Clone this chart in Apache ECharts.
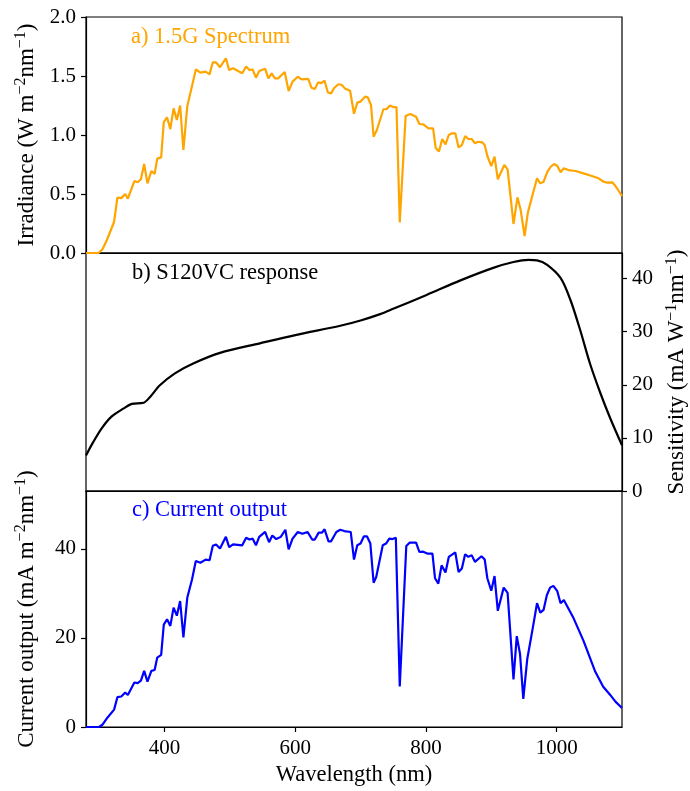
<!DOCTYPE html>
<html>
<head>
<meta charset="utf-8">
<script src="https://cdn.jsdelivr.net/npm/echarts@6/dist/echarts.min.js"></script>
<style>
  html, body { margin: 0; padding: 0; background: #fff; }
  #main { width: 690px; height: 791px; }
</style>
</head>
<body>
<div id="main"></div>
<script>
// a) spectre AM1.5G (lu sur la figure)
const irrWl = [280, 299, 305, 312, 323, 328, 334, 340, 344, 354, 359, 364, 369, 374, 380, 385, 389, 395, 399, 404,
  409, 414, 419, 424, 429, 435, 442, 448, 455, 463, 469, 474, 479, 485, 494, 499, 505, 519, 525, 530,
  535, 540, 545, 554, 559, 564, 569, 574, 584, 590, 596, 604, 610, 620, 625, 630, 635, 640, 645, 650,
  655, 660, 666, 671, 676, 684, 690, 695, 700, 707, 711, 716, 720, 725, 735, 740, 745, 750, 755, 760,
  769, 776, 785, 790, 796, 804, 811, 815, 820, 825, 830, 835, 840, 845, 850, 855, 860, 865, 870, 875,
  880, 886, 890, 894, 900, 905, 910, 920, 925, 934, 940, 945, 951, 956, 963, 970, 975, 980, 986, 991,
  996, 1001, 1006, 1011, 1018, 1029, 1041, 1054, 1064, 1072, 1077, 1085, 1090, 1100];
const irrVal = [0, 0, 0.03, 0.11, 0.265, 0.47, 0.465, 0.50, 0.46, 0.61, 0.60, 0.625, 0.755, 0.59, 0.695, 0.67, 0.80, 0.81, 1.11, 1.15,
  1.05, 1.226, 1.127, 1.25, 0.873, 1.246, 1.41, 1.556, 1.528, 1.537, 1.514, 1.616, 1.616, 1.574, 1.65, 1.55, 1.565, 1.523, 1.58, 1.55,
  1.555, 1.486, 1.542, 1.562, 1.48, 1.523, 1.48, 1.48, 1.534, 1.373, 1.452, 1.494, 1.472, 1.475, 1.40, 1.39, 1.446, 1.44, 1.46, 1.36,
  1.353, 1.40, 1.43, 1.426, 1.395, 1.375, 1.18, 1.274, 1.283, 1.325, 1.32, 1.254, 0.986, 1.042, 1.218, 1.22, 1.25, 1.237, 1.237, 0.26,
  1.161, 1.178, 1.155, 1.093, 1.09, 1.056, 1.056, 0.89, 0.86, 0.966, 0.92, 1.0, 1.014, 1.014, 0.895, 0.915, 0.99, 0.966, 0.966, 0.93,
  0.943, 0.938, 0.915, 0.822, 0.737, 0.816, 0.625, 0.746, 0.709, 0.246, 0.472, 0.364, 0.144, 0.342, 0.49, 0.633, 0.59, 0.604, 0.689, 0.731,
  0.754, 0.74, 0.684, 0.718, 0.703, 0.695, 0.675, 0.653, 0.633, 0.604, 0.596, 0.599, 0.568, 0.483];

// b) sensibilité S120VC
const sensWl = [280, 291, 304, 319, 337, 350, 368, 378, 393, 416, 444, 485, 546, 602, 669, 700, 730, 750, 801, 852,
  903, 934, 957, 970, 985, 1006, 1021, 1036, 1051, 1067, 1082, 1100];
const sensVal = [6.7, 9.2, 11.8, 14.0, 15.5, 16.4, 16.6, 17.7, 19.9, 22.15, 24.0, 26.0, 27.8, 29.4, 31.1, 32.1, 33.3, 34.3, 36.9, 39.6,
  42.0, 43.1, 43.5, 43.4, 42.6, 40.1, 36.0, 30.3, 24.0, 18.4, 13.7, 8.6];

// c) courant de sortie
const curWl = [280, 300, 305, 313, 323, 328, 334, 340, 344, 354, 359, 364, 369, 374, 380, 385, 389, 395, 399, 404,
  409, 414, 419, 424, 429, 435, 442, 448, 455, 463, 469, 474, 479, 485, 494, 499, 505, 519, 525, 530,
  535, 540, 545, 554, 560, 565, 571, 578, 585, 590, 596, 604, 611, 619, 626, 630, 636, 641, 645, 651,
  655, 663, 669, 675, 685, 690, 695, 700, 705, 710, 715, 720, 724, 734, 739, 744, 749, 754, 760, 770,
  775, 785, 790, 795, 802, 810, 814, 819, 824, 830, 835, 845, 850, 855, 860, 865, 870, 875, 885, 890,
  894, 900, 905, 910, 919, 925, 934, 939, 944, 949, 955, 963, 970, 975, 980, 985, 990, 995, 1001, 1006,
  1011, 1026, 1041, 1059, 1071, 1082, 1090, 1100];
const curVal = [0, 0, 0.5, 2.15, 3.9, 6.7, 6.85, 7.75, 7.2, 10.0, 9.85, 10.4, 12.6, 10.2, 12.6, 12.8, 15.6, 16.2, 23.0, 24.2,
  22.7, 26.8, 25.0, 28.3, 20.1, 29.1, 33.0, 37.3, 36.9, 37.6, 37.45, 40.7, 41.0, 40.1, 42.7, 40.4, 41.0, 40.8, 42.5, 42.1,
  42.3, 40.8, 42.7, 43.8, 41.5, 43.0, 42.2, 42.7, 44.3, 39.9, 42.3, 43.8, 43.4, 43.8, 42.1, 42.1, 43.65, 43.65, 44.4, 41.7,
  41.7, 43.8, 44.3, 44.0, 43.8, 37.6, 40.8, 41.2, 42.8, 42.8, 41.2, 32.4, 33.7, 40.8, 41.2, 42.3, 42.2, 42.5, 9.1, 40.65,
  41.4, 41.4, 39.3, 39.4, 38.95, 38.95, 33.4, 32.2, 36.3, 34.7, 38.2, 39.2, 34.8, 35.6, 38.8, 38.2, 38.6, 37.1, 38.35, 37.6,
  33.4, 30.6, 33.9, 26.1, 31.3, 30.1, 10.7, 20.4, 16.4, 6.3, 15.2, 21.8, 27.8, 25.7, 26.3, 29.6, 31.3, 31.7, 30.5, 27.8,
  28.5, 24.4, 19.4, 12.45, 9.1, 7.2, 5.7, 4.25];

const xTicks = [400, 600, 800, 1000];
const irrTicks = [0, 0.5, 1.0, 1.5, 2.0];
const sensTicks = [0, 10, 20, 30, 40];
const curTicks = [0, 20, 40];

const zip = (xs, ys) => xs.map((x, i) => [x, ys[i]]);

const FONT = "'Liberation Serif', 'DejaVu Serif', serif";
const tickFont = { fontFamily: FONT, fontSize: 21, color: "#000" };
const nameRich = {
  a: { fontFamily: FONT, fontSize: 23, color: "#000" },
  s: { fontFamily: FONT, fontSize: 16, color: "#000", padding: [0, 0, 11, 0] },
};

// trois panneaux empilés, même axe des x
const grids = [
  { left: 86, right: 68, top: 17, height: 236 },
  { left: 86, right: 68, top: 253, height: 238 },
  { left: 86, right: 68, top: 491, height: 236 },
].map((g) => Object.assign(g, { show: true, borderColor: "#000", borderWidth: 1.2, containLabel: false, outerBoundsMode: "none" }));

const xAxisBase = (idx, labels) => ({
  type: "value",
  gridIndex: idx,
  min: 280,
  max: 1100,
  splitLine: { show: false },
  axisLine: { show: true, lineStyle: { color: "#000", width: 1.2 } },
  axisTick: { show: labels, length: 5, customValues: xTicks, lineStyle: { color: "#000", width: 1.2 } },
  axisLabel: Object.assign({ show: labels, margin: 11, customValues: xTicks, formatter: (v) => String(v) }, tickFont),
  name: labels ? "Wavelength (nm)" : "",
  nameLocation: "middle",
  nameGap: 37,
  nameTextStyle: { fontFamily: FONT, fontSize: 22.5, color: "#000" },
});

const yAxisBase = (idx, min, max, ticks, position, name, gap) => ({
  type: "value",
  gridIndex: idx,
  min: min,
  max: max,
  position: position,
  splitLine: { show: false },
  axisLine: { show: true, onZero: false, lineStyle: { color: "#000", width: 1.2 } },
  axisTick: { show: true, length: 5, customValues: ticks, lineStyle: { color: "#000", width: 1.2 } },
  axisLabel: Object.assign({ margin: 10, customValues: ticks, formatter: (v) => (idx === 0 ? v.toFixed(1) : String(v)) }, tickFont),
  name: name,
  nameLocation: "middle",
  nameRotate: 90,
  nameGap: gap,
  nameTextStyle: { rich: nameRich },
});

const titleStyle = (color) => ({ fontFamily: FONT, fontSize: 22.5, fontWeight: "normal", color: color });

const option = {
  animation: false,
  backgroundColor: "#fff",
  title: [
    { text: "a) 1.5G Spectrum", left: 126, top: 21, textStyle: titleStyle("#FFA500") },
    { text: "b) S120VC response", left: 127, top: 257, textStyle: titleStyle("#000") },
    { text: "c) Current output", left: 127, top: 494, textStyle: titleStyle("#0000FF") },
  ],
  grid: grids,
  xAxis: [xAxisBase(0, false), xAxisBase(1, false), xAxisBase(2, true)],
  yAxis: [
    yAxisBase(0, 0, 2.0, irrTicks, "left", "{a|Irradiance (W m}{s|−2}{a|nm}{s|−1}{a|)}", 46),
    yAxisBase(1, 0, 44.8, sensTicks, "right", "{a|Sensitivity (mA W}{s|−1}{a|nm}{s|−1}{a|)}", 41),
    yAxisBase(2, 0, 53, curTicks, "left", "{a|Current output (mA m}{s|−2}{a|nm}{s|−1}{a|)}", 46),
  ],
  series: [
    { type: "line", xAxisIndex: 0, yAxisIndex: 0, data: zip(irrWl, irrVal), showSymbol: false, lineStyle: { color: "#FFA500", width: 2.2 }, itemStyle: { color: "#FFA500" } },
    { type: "line", xAxisIndex: 1, yAxisIndex: 1, data: zip(sensWl, sensVal), smooth: 0.3, showSymbol: false, lineStyle: { color: "#000", width: 2.2 }, itemStyle: { color: "#000" } },
    { type: "line", xAxisIndex: 2, yAxisIndex: 2, data: zip(curWl, curVal), showSymbol: false, lineStyle: { color: "#0000FF", width: 2.2 }, itemStyle: { color: "#0000FF" } },
  ],
};

const chart = echarts.init(document.getElementById("main"), null, { renderer: "canvas" });
chart.setOption(option);
</script>
</body>
</html>
